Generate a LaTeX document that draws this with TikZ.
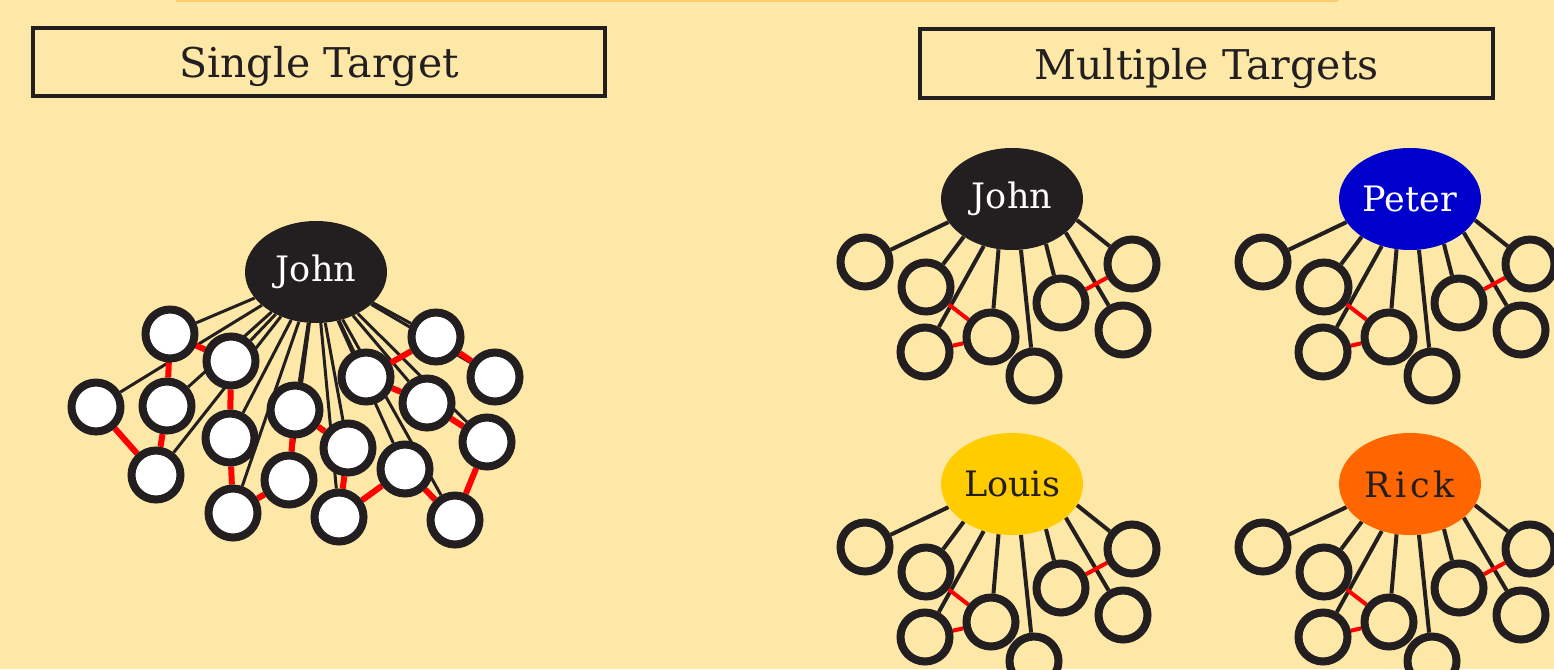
\documentclass[tikz,border=0pt]{standalone}
\usepackage{fontspec}
\setmainfont{DejaVu Serif}
\usetikzlibrary{shapes.geometric}
\definecolor{bgcol}{RGB}{253,232,167}
\definecolor{topcol}{RGB}{252,204,110}
\definecolor{ink}{RGB}{35,31,32}
\definecolor{pblue}{RGB}{0,0,204}
\definecolor{lyellow}{RGB}{255,204,0}
\definecolor{rorange}{RGB}{255,102,0}
\pgfdeclarelayer{bgfill}
\pgfdeclarelayer{lines}
\pgfsetlayers{bgfill,lines,main}
\tikzset{
  titlebox/.style={draw=ink, line width=4pt, minimum width=572pt, minimum height=68pt, inner sep=0pt, text depth=0pt, text=ink, font=\fontsize{41}{48}\selectfont},
  namebox/.style={ellipse, minimum width=142pt, minimum height=102pt, inner sep=0pt, font=\fontsize{35}{42}\selectfont},
  ringS/.style={circle, draw=ink, fill=white, line width=8pt, minimum size=49pt, inner sep=0pt},
  ringM/.style={circle, draw=ink, fill=bgcol, line width=8pt, minimum size=49pt, inner sep=0pt},
  spokeS/.style={draw=ink, line width=3pt},
  linkS/.style={draw=red, line width=6pt},
  spokeM/.style={draw=ink, line width=4pt},
  linkM/.style={draw=red, line width=4pt},
  topline/.style={draw=topcol, line width=2pt}
}
\newcommand\targetgroup[6]{%
  \node[namebox, fill=#4, text=#5] (#1) at (#2,#3) {#6};
  \foreach \n/\dx/\dy in {a/-147/63, b/-86/88, c/-87/153, d/-21/138, e/22/177, f/49/104, g/120/65, h/111/131}
    \node[ringM] (#1\n) at (#2+\dx,#3+\dy) {};
  \begin{pgfonlayer}{lines}
    \foreach \n/\ang in {a/200, b/218, c/239, d/255, e/280, f/307, g/342, h/328} \draw[spokeM] (#1.\ang) -- (#1\n);
    \draw[linkM] (#1b) -- (#1d) (#1c) -- (#1d) (#1f) -- (#1g);
  \end{pgfonlayer}}
\begin{document}
\begin{tikzpicture}[x=1pt,y=-1pt]
\useasboundingbox (0,0) rectangle (1554,669);
\begin{pgfonlayer}{bgfill}
  \fill[bgcol] (0,0) rectangle (1554,669);
  \draw[topline] (176,0.8) -- (1338,0.8);
\end{pgfonlayer}
% titles
\node[titlebox] (t1) at (319,62) {Single Target};
\node[titlebox, minimum width=573pt, minimum height=69pt] (t2) at (1206.5,63.5) {Multiple Targets};
% single target
\node[namebox, fill=ink, text=white] (sj) at (316,272) {John};
\foreach \i/\x/\y in {1/170/334, 2/231/361, 3/96/407, 4/167/406, 5/156/475, 6/230/438, 7/295/410, 8/233/513, 9/289/480, 10/348/448, 11/339/517, 12/366/377, 13/436/337, 14/495/377, 15/427/403, 16/487/442, 17/405/469, 18/455/520}
  \node[ringS] (s\i) at (\x,\y) {};
\begin{pgfonlayer}{lines}
  \foreach \i in {1,...,18} \draw[spokeS] (sj) -- (s\i);
  \foreach \a/\b in {1/2, 1/4, 3/5, 4/5, 2/6, 6/8, 8/9, 9/7, 7/10, 10/11, 11/17, 17/18, 18/16, 16/15, 15/12, 12/13, 13/14}
    \draw[linkS] (s\a) -- (s\b);
\end{pgfonlayer}
% multiple targets
\targetgroup{mj}{1012}{199}{ink}{white}{John}
\targetgroup{mp}{1410}{199}{pblue}{white}{Peter}
\targetgroup{ml}{1012}{484}{lyellow}{ink}{Louis}
\targetgroup{mr}{1410}{484}{rorange}{ink}{R\kern4pt i\kern4pt c\kern4pt k}
\end{tikzpicture}
\end{document}
